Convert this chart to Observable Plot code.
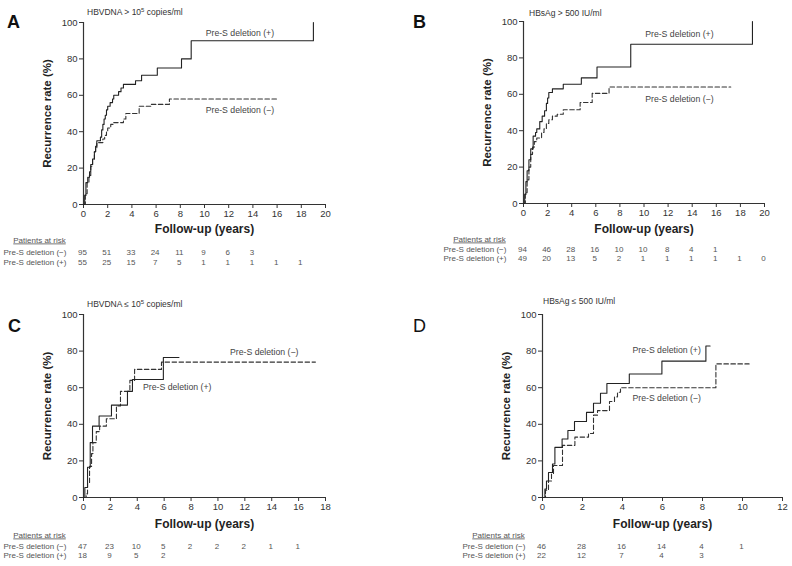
<!DOCTYPE html>
<html>
<head>
<meta charset="utf-8">
<script src="https://cdn.jsdelivr.net/npm/d3@7"></script>
<script src="https://cdn.jsdelivr.net/npm/@observablehq/plot@0.6"></script>
<style>
  body { margin: 0; background: #fff; font-family: "Liberation Sans", Arial, sans-serif; }
  #wrap { position: relative; width: 792px; height: 566px; overflow: hidden; background: #fff; }
  .pane { position: absolute; }
  .letter { position: absolute; font-size: 18px; line-height: 18px; font-weight: bold; color: #111; }
  .title { position: absolute; font-size: 8.5px; line-height: 10px; color: #333; white-space: nowrap; }
  .title sup { font-size: 6px; vertical-align: 3px; line-height: 0; }
</style>
</head>
<body>
<div id="wrap"></div>
<script>
// ---------- DATA ----------
const yTicks = [0, 20, 40, 60, 80, 100];
const xTicksA = [0, 2, 4, 6, 8, 10, 12, 14, 16, 18, 20];
const xTicksB = [0, 2, 4, 6, 8, 10, 12, 14, 16, 18, 20];
const xTicksC = [0, 2, 4, 6, 8, 10, 12, 14, 16, 18];
const xTicksD = [0, 2, 4, 6, 8, 10, 12];

// Kaplan-Meier style step points [years, recurrence %]
const curveA_pos = [[0,0],[0.1,5],[0.2,12],[0.35,15],[0.5,18],[0.6,22],[0.75,25],[0.9,29],[1.0,32],[1.1,35],[1.4,37],[1.5,41],[1.6,44],[1.7,47],[1.8,49],[1.9,52],[2.0,54],[2.2,56],[2.4,58],[2.5,60],[2.9,62],[3.1,64],[3.3,66],[4.3,68],[4.8,71],[6.1,75],[8.1,80],[8.9,90],[19.0,100]];
const curveA_neg = [[0,0],[0.15,6],[0.3,12],[0.45,16],[0.6,21],[0.75,25],[0.9,29],[1.0,31],[1.1,34],[1.6,36],[1.75,38],[1.9,40],[2.0,42],[2.25,44],[2.5,45],[3.3,47],[3.5,50],[4.6,54],[5.6,55],[7.1,58],[16.0,58]];

const curveB_pos = [[0,0],[0.1,5],[0.2,12],[0.3,18],[0.45,24],[0.6,30],[0.8,37],[1.0,39],[1.1,41],[1.35,45],[1.55,48],[1.75,51],[1.9,55],[2.0,58],[2.1,61],[2.4,63],[3.3,65.5],[4.8,69],[6.1,75],[8.9,87.5],[19.0,100]];
const curveB_neg = [[0,0],[0.15,6],[0.3,13],[0.45,20],[0.6,27],[0.75,31],[0.9,34],[1.1,36],[1.5,39],[1.7,41],[1.9,44],[2.1,46],[2.4,48],[2.8,49],[3.3,51.5],[4.7,55.5],[5.7,60.5],[7.1,64],[17.2,64]];

const curveC_pos = [[0,0],[0.1,5.5],[0.3,16.5],[0.5,30],[0.67,39],[1.16,44.5],[2.08,50.5],[3.27,58],[3.64,64.5],[5.94,76.5],[7.1,76.5]];
const curveC_neg = [[0,0],[0.2,2],[0.3,8],[0.45,17],[0.6,24],[0.7,30],[0.95,36],[1.2,39],[1.7,43],[2.45,50],[2.75,58],[3.45,64],[3.8,70],[5.8,74],[17.25,74]];

const curveD_pos = [[0,0],[0.12,4.6],[0.2,9],[0.3,13.7],[0.5,18.3],[0.62,27.4],[0.98,32],[1.27,36.6],[1.6,41.5],[2.2,46.5],[2.55,51.5],[2.9,57],[3.22,62.3],[4.34,67.5],[5.97,74.5],[8.17,82.8],[8.38,82.8]];
const curveD_neg = [[0,0],[0.15,4],[0.3,9],[0.45,13],[0.55,17.5],[1.0,28.5],[1.62,33],[2.3,35],[2.55,45],[2.75,47.5],[3.35,52.5],[3.6,55],[3.75,57.5],[3.9,60],[8.67,73],[10.33,73]];

// Patients at risk (values at x ticks 0,2,4,...)
const riskA_neg = [95, 51, 33, 24, 11, 9, 6, 3];
const riskA_pos = [55, 25, 15, 7, 5, 1, 1, 1, 1, 1];
const riskB_neg = [94, 46, 28, 16, 10, 10, 8, 4, 1];
const riskB_pos = [49, 20, 13, 5, 2, 1, 1, 1, 1, 1, 0];
const riskC_neg = [47, 23, 10, 5, 2, 2, 2, 1, 1];
const riskC_pos = [18, 9, 5, 2];
const riskD_neg = [46, 28, 16, 14, 4, 1];
const riskD_pos = [22, 12, 7, 4, 3];

// Curve labels [x, y, text]
const labelsA = [[10.1, 94.3, "Pre-S deletion (+)"], [10.1, 52, "Pre-S deletion (\u2212)"]];
const labelsB = [[10.1, 92.8, "Pre-S deletion (+)"], [10.1, 57.2, "Pre-S deletion (\u2212)"]];
const labelsC = [[10.9, 79.2, "Pre-S deletion (\u2212)"], [4.43, 60, "Pre-S deletion (+)"]];
const labelsD = [[4.5, 80.4, "Pre-S deletion (+)"], [4.5, 54, "Pre-S deletion (\u2212)"]];

const rowNames = ["Pre-S deletion (\u2212)", "Pre-S deletion (+)"];
const atRiskTitle = "Patients at risk";
const xTitle = "Follow-up (years)";
const yTitle = "Recurrence rate (%)";

// ---------- DRAWING ----------
const FONT = "'Liberation Sans', Arial, sans-serif";

function panel(cfg) {
  const negRisk = cfg.riskNeg.map((v, i) => ({x: cfg.xTicks[i], v}));
  const posRisk = cfg.riskPos.map((v, i) => ({x: cfg.xTicks[i], v}));
  const svg = Plot.plot({
    width: cfg.width, height: cfg.height,
    marginLeft: cfg.ml, marginRight: cfg.mr, marginTop: cfg.mt, marginBottom: cfg.mb,
    x: {domain: [0, cfg.xMax]},
    y: {domain: [0, 100]},
    style: {fontFamily: FONT, fontSize: "9.5px", color: "#333", background: "transparent", overflow: "visible"},
    marks: [
      Plot.ruleX([0], {stroke: "#333", strokeWidth: 1.2}),
      Plot.ruleY([0], {stroke: "#333", strokeWidth: 1.2}),
      Plot.axisY(yTicks, {tickSize: 4, tickPadding: 2, label: null, stroke: "#333", fill: "#333", fontSize: 9.5}),
      Plot.axisX(cfg.xTicks, {tickSize: 4, tickPadding: 2, label: null, stroke: "#333", fill: "#333", fontSize: 9.5}),
      Plot.line(cfg.neg, {x: d => d[0], y: d => d[1], curve: "step-after", stroke: "#333", strokeWidth: 1.1, strokeDasharray: "4.5,2.5"}),
      Plot.line(cfg.pos, {x: d => d[0], y: d => d[1], curve: "step-after", stroke: "#222", strokeWidth: 1.1}),
      Plot.text(cfg.labels, {x: d => d[0], y: d => d[1], text: d => d[2], textAnchor: "start", fontSize: 8.7, fill: "#444"}),
      // axis titles
      Plot.text([yTitle], {frameAnchor: "left", textAnchor: "middle", rotate: -90, dx: -36, fontSize: 11.5, fontWeight: "bold", fill: "#222"}),
      Plot.text([xTitle], {frameAnchor: "bottom", textAnchor: "middle", dy: cfg.dyTitle, fontSize: 12, fontWeight: "bold", fill: "#222"}),
      // at-risk table
      Plot.text([atRiskTitle], {frameAnchor: "bottom-left", textAnchor: "middle", dx: -44, dy: cfg.dyHead, fontSize: 8, fill: "#555"}),
      Plot.text([rowNames[0]], {frameAnchor: "bottom-left", dx: -80, dy: cfg.dyRow1, textAnchor: "start", fontSize: 8, fill: "#555"}),
      Plot.text([rowNames[1]], {frameAnchor: "bottom-left", dx: -80, dy: cfg.dyRow2, textAnchor: "start", fontSize: 8, fill: "#555"}),
      Plot.text(negRisk, {x: "x", frameAnchor: "bottom", textAnchor: "middle", dy: cfg.dyRow1, dx: -1, text: d => String(d.v), fontSize: 8, fill: "#555"}),
      Plot.text(posRisk, {x: "x", frameAnchor: "bottom", textAnchor: "middle", dy: cfg.dyRow2, dx: -1, text: d => String(d.v), fontSize: 8, fill: "#555"})
    ]
  });
  svg.querySelectorAll("text").forEach(t => {
    if (t.textContent === atRiskTitle) t.setAttribute("text-decoration", "underline");
  });
  return svg;
}

const wrap = document.getElementById("wrap");
function place(node, left, top) {
  const d = document.createElement("div");
  d.className = "pane";
  d.style.left = left + "px";
  d.style.top = top + "px";
  d.appendChild(node);
  wrap.appendChild(d);
}

place(panel({width: 396, height: 283, ml: 83, mr: 71, mt: 22, mb: 79, xMax: 20, xTicks: xTicksA,
  neg: curveA_neg, pos: curveA_pos, riskNeg: riskA_neg, riskPos: riskA_pos, labels: labelsA,
  dyTitle: 28, dyHead: 38, dyRow1: 50, dyRow2: 60}), 0, 0);
place(panel({width: 396, height: 283, ml: 127, mr: 28, mt: 21, mb: 80, xMax: 20, xTicks: xTicksB,
  neg: curveB_neg, pos: curveB_pos, riskNeg: riskB_neg, riskPos: riskB_pos, labels: labelsB,
  dyTitle: 29, dyHead: 38, dyRow1: 48, dyRow2: 57}), 396, 0);
place(panel({width: 396, height: 283, ml: 83, mr: 71, mt: 31, mb: 69, xMax: 18, xTicks: xTicksC,
  neg: curveC_neg, pos: curveC_pos, riskNeg: riskC_neg, riskPos: riskC_pos, labels: labelsC,
  dyTitle: 30, dyHead: 40, dyRow1: 51, dyRow2: 60}), 0, 283);
place(panel({width: 396, height: 283, ml: 146, mr: 10, mt: 31, mb: 69, xMax: 12, xTicks: xTicksD,
  neg: curveD_neg, pos: curveD_pos, riskNeg: riskD_neg, riskPos: riskD_pos, labels: labelsD,
  dyTitle: 30, dyHead: 40, dyRow1: 51, dyRow2: 60}), 396, 283);

// panel letters and subgroup titles
const letters = [["A", 7, 13, "bold"], ["B", 413, 13, "bold"], ["C", 8, 317, "bold"], ["D", 413, 317, "normal"]];
const titles = [
  ["HBVDNA &gt; 10<sup>5</sup> copies/ml", 87, 7],
  ["HBsAg &gt; 500 IU/ml", 529, 8],
  ["HBVDNA \u2264 10<sup>5</sup> copies/ml", 87, 299],
  ["HBsAg \u2264 500 IU/ml", 543, 296]
];
letters.forEach(([t, x, y, w]) => {
  const d = document.createElement("div");
  d.className = "letter"; d.textContent = t;
  d.style.left = x + "px"; d.style.top = y + "px"; d.style.fontWeight = w;
  wrap.appendChild(d);
});
titles.forEach(([t, x, y]) => {
  const d = document.createElement("div");
  d.className = "title"; d.innerHTML = t;
  d.style.left = x + "px"; d.style.top = y + "px";
  wrap.appendChild(d);
});
</script>
</body>
</html>
